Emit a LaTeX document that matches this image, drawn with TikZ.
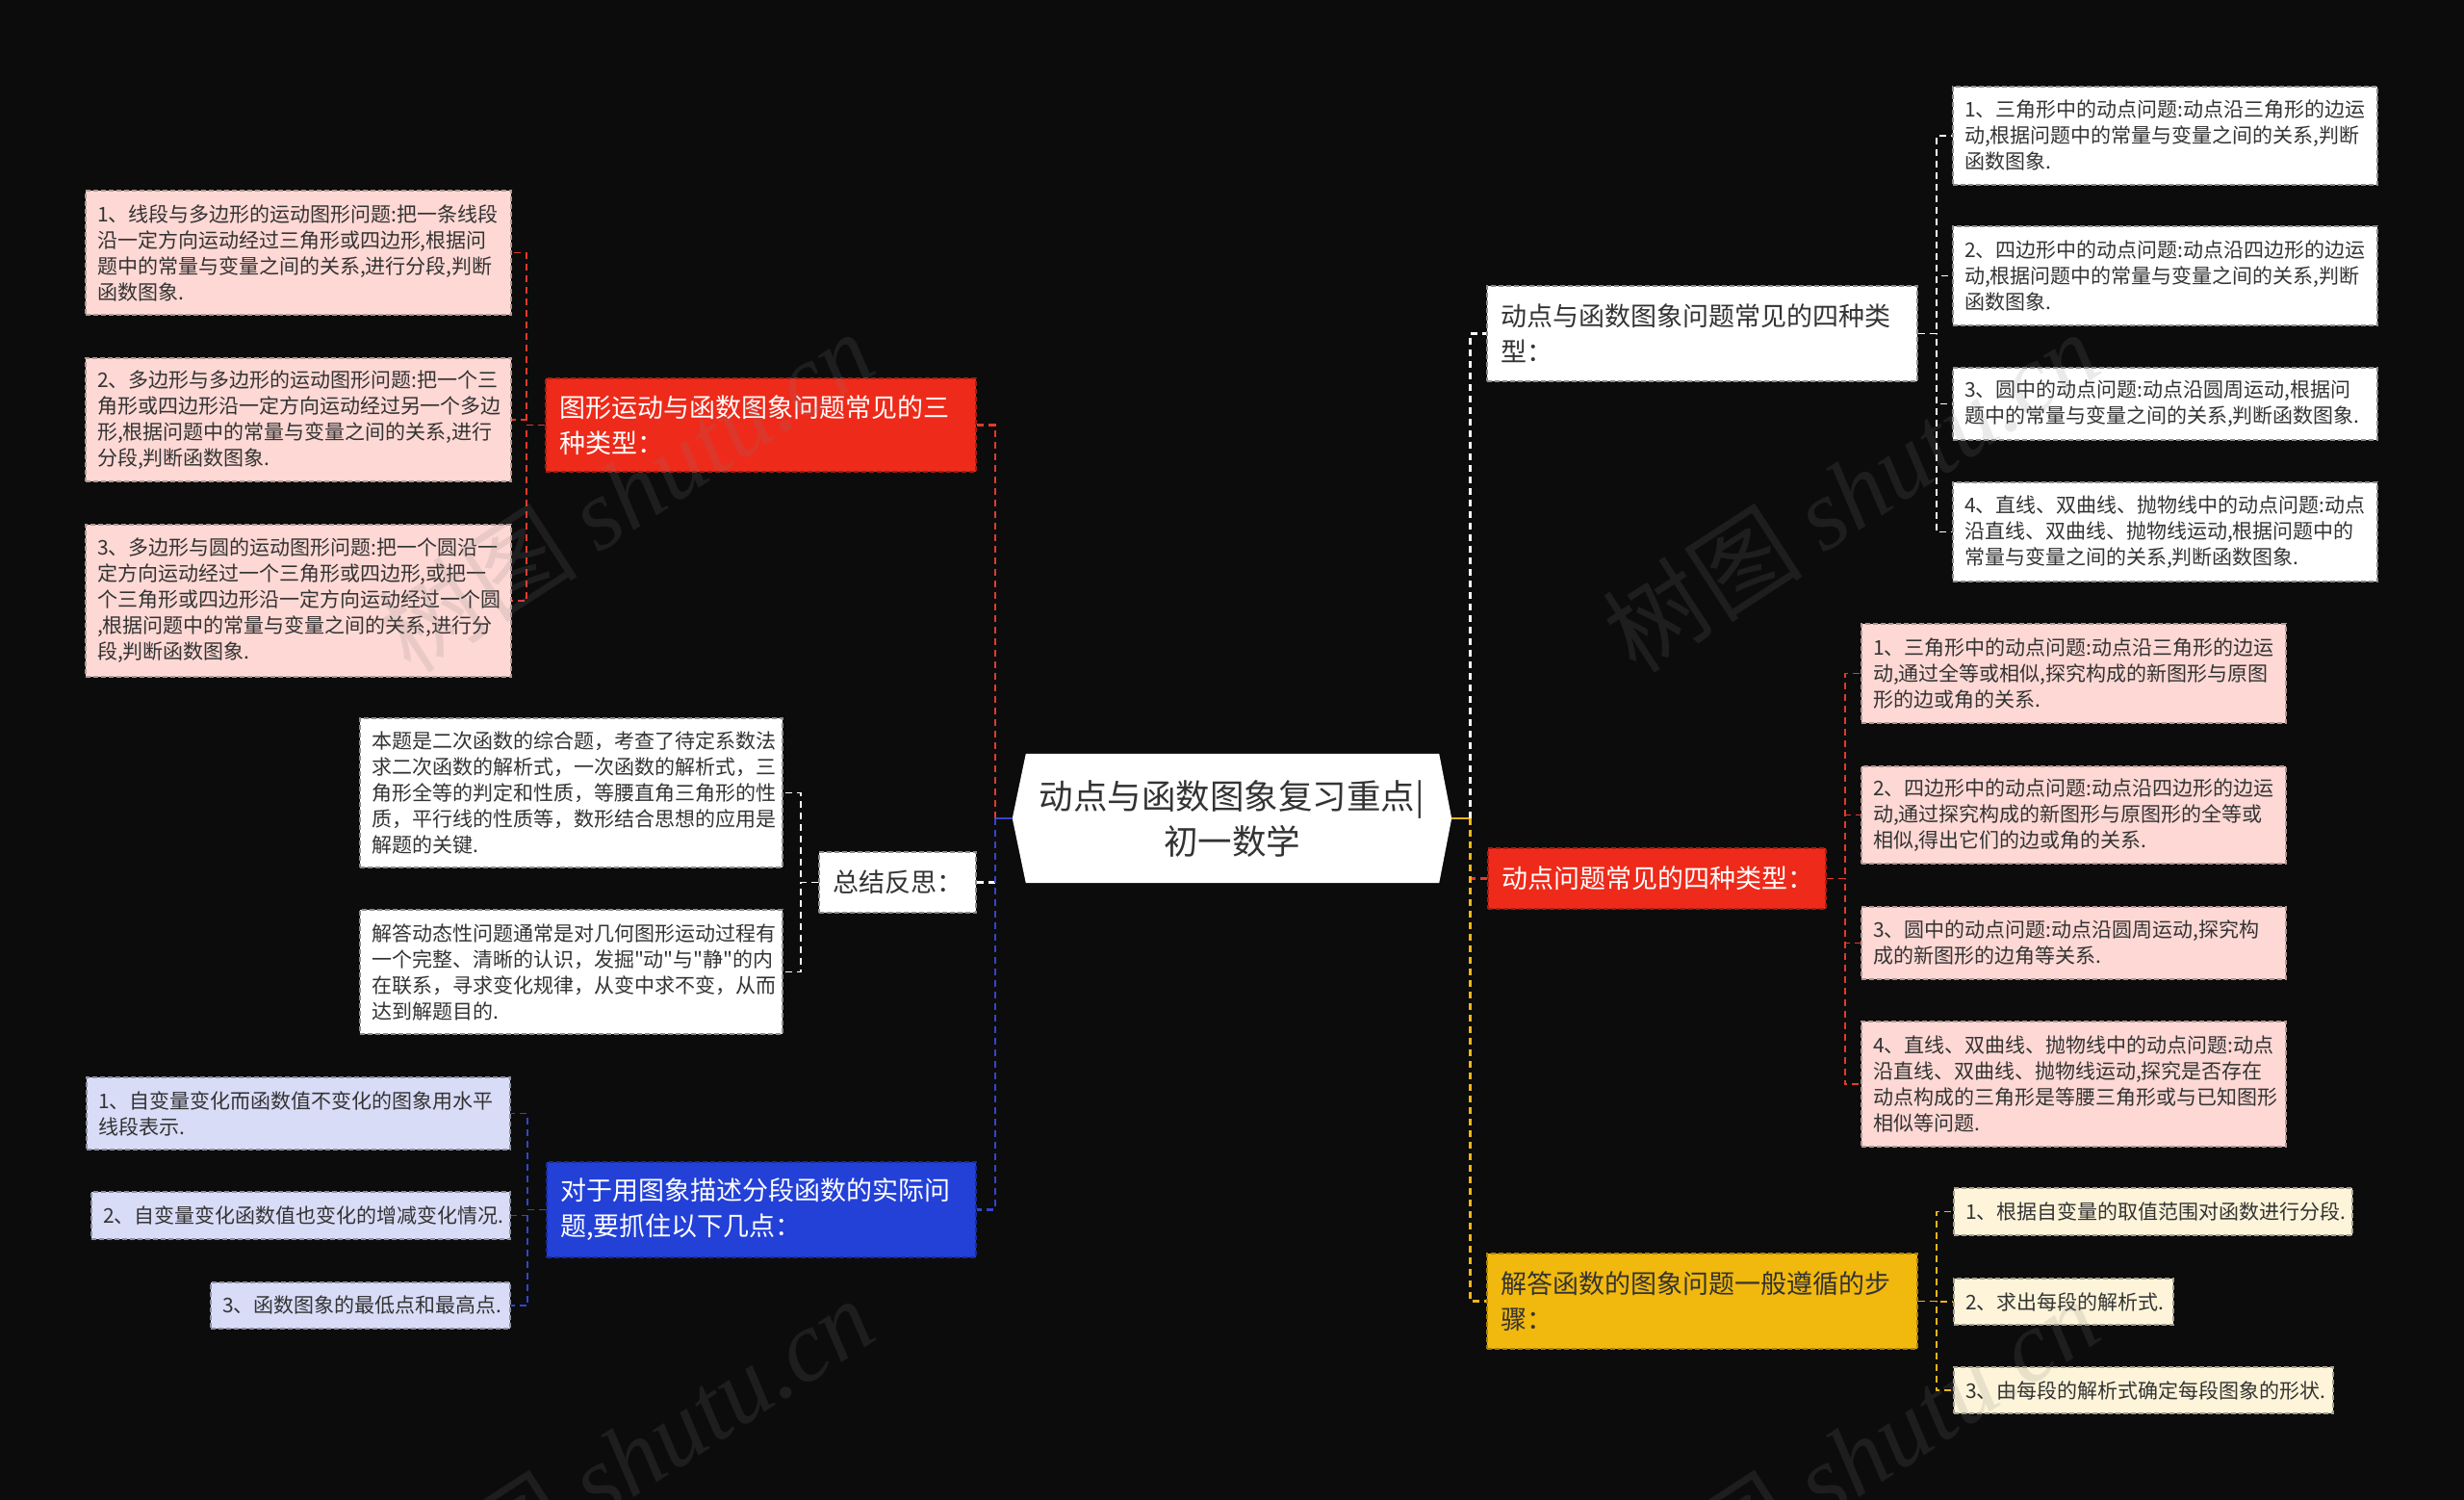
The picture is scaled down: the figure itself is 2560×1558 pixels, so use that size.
\documentclass[tikz,border=0pt]{standalone}
\usepackage{fontspec}
\setmainfont{Noto Sans CJK SC}[Ligatures=TeXOff]
\newfontfamily\wmfont{Liberation Serif}
\usetikzlibrary{calc}
\pgfdeclarelayer{bglayer}
\pgfsetlayers{bglayer,main}

\definecolor{bgc}{HTML}{0C0C0C}
\definecolor{redm}{HTML}{EE2A1A}
\definecolor{bluem}{HTML}{2340D7}
\definecolor{yelm}{HTML}{F1B80D}
\definecolor{pinkc}{HTML}{FDD8D4}
\definecolor{bluec}{HTML}{D9DCF7}
\definecolor{yelc}{HTML}{FDF4D9}
\definecolor{txt}{HTML}{333333}
\definecolor{redl}{HTML}{E23A2C}
\definecolor{bluel}{HTML}{3346CC}
\definecolor{yell}{HTML}{EDB61C}
\definecolor{wmc}{HTML}{808080}

\tikzset{
  basebox/.style={draw, dash pattern=on 5pt off 3pt, line width=1.4pt, align=left, inner ysep=4pt},
  childbox/.style={basebox, inner xsep=12pt, font=\fontsize{21pt}{27pt}\selectfont, text=txt},
  mainbox/.style={basebox, inner xsep=14pt, font=\fontsize{27pt}{37pt}\selectfont},
  pinkbox/.style={childbox, fill=pinkc, draw=pinkc!70!black},
  lbluebox/.style={childbox, fill=bluec, draw=bluec!65!black},
  lyelbox/.style={childbox, fill=yelc, draw=yelc!65!black},
  whitebox/.style={childbox, fill=white, draw=black!45},
  redmainbox/.style={mainbox, fill=redm, draw=redm!70!black, text=white},
  bluemainbox/.style={mainbox, fill=bluem, draw=bluem!70!black, text=white},
  yelmainbox/.style={mainbox, fill=yelm, draw=yelm!70!black, text=txt},
  whitemainbox/.style={mainbox, fill=white, draw=black!45, text=txt},
  conbase/.style={dash pattern=on 7pt off 5pt},
  redcon/.style={conbase, draw=redl, line width=2.6pt},
  bluecon/.style={conbase, draw=bluel, line width=2.6pt},
  yelcon/.style={conbase, draw=yell, line width=2.6pt},
  whitecon/.style={conbase, draw=white, line width=2.6pt},
  redchild/.style={conbase, draw=redl, line width=1.8pt},
  bluechild/.style={conbase, draw=bluel, line width=1.8pt},
  yelchild/.style={conbase, draw=yell, line width=1.8pt},
  whitechild/.style={conbase, draw=white, line width=1.8pt},
  wmark/.style={text=wmc, opacity=0.16, font=\fontsize{104pt}{104pt}\selectfont, rotate=33},
}

\begin{document}
\begin{tikzpicture}[x=1pt,y=-1pt]
\useasboundingbox (0,0) rectangle (2560,1558);
\clip (0,0) rectangle (2560,1558);

% ---------- centre ----------
\node[font=\fontsize{35.5pt}{47pt}\selectfont, text=txt, align=center,
      minimum width=456pt, minimum height=134pt, inner sep=0pt] (c) at (1280,850)
  {动点与函数图象复习重点|\\初一数学};

\begin{pgfonlayer}{bglayer}
  \fill[bgc] (0,0) rectangle (2560,1558);
  \fill[white] (c.west) -- ([xshift=14pt]c.north west) -- ([xshift=-13pt]c.north east)
     -- (c.east) -- ([xshift=-13pt]c.south east) -- ([xshift=14pt]c.south west) -- cycle;
\end{pgfonlayer}

% ---------- left: red main and children ----------
\node[redmainbox, text width=419pt, minimum height=97pt] (ra) at (790.5,441.5)
  {图形运动与函数图象问题常见的三\\种类型：};
\node[pinkbox, text width=418pt, minimum height=129pt] (l1) at (310,262.5)
  {1、线段与多边形的运动图形问题:把一条线段\\沿一定方向运动经过三角形或四边形,根据问\\题中的常量与变量之间的关系,进行分段,判断\\函数图象.};
\node[pinkbox, text width=418pt, minimum height=128pt] (l2) at (310,436)
  {2、多边形与多边形的运动图形问题:把一个三\\角形或四边形沿一定方向运动经过另一个多边\\形,根据问题中的常量与变量之间的关系,进行\\分段,判断函数图象.};
\node[pinkbox, text width=418pt, minimum height=158pt] (l3) at (310,624)
  {3、多边形与圆的运动图形问题:把一个圆沿一\\定方向运动经过一个三角形或四边形,或把一\\个三角形或四边形沿一定方向运动经过一个圆\\,根据问题中的常量与变量之间的关系,进行分\\段,判断函数图象.};

% ---------- left: summary ----------
\node[whitemainbox, text width=135pt, minimum height=63pt] (sum) at (932.5,916.5)
  {总结反思：};
\node[whitebox, text width=415pt, minimum height=155pt] (s1) at (593.5,823.5)
  {本题是二次函数的综合题，考查了待定系数法\\求二次函数的解析式，一次函数的解析式，三\\角形全等的判定和性质，等腰直角三角形的性\\质，平行线的性质等，数形结合思想的应用是\\解题的关键.};
\node[whitebox, text width=415pt, minimum height=129pt] (s2) at (593.5,1009.5)
  {解答动态性问题通常是对几何图形运动过程有\\一个完整、清晰的认识，发掘"动"与"静"的内\\在联系，寻求变化规律，从变中求不变，从而\\达到解题目的.};

% ---------- left: blue main and children ----------
\node[bluemainbox, text width=418pt, minimum height=99pt] (ba) at (791,1256.5)
  {对于用图象描述分段函数的实际问\\题,要抓住以下几点：};
\node[lbluebox, text width=416pt, minimum height=75pt] (b1) at (310,1156.5)
  {1、自变量变化而函数值不变化的图象用水平\\线段表示.};
\node[lbluebox, text width=411pt, minimum height=49pt] (b2) at (312.5,1262.5)
  {2、自变量变化函数值也变化的增减变化情况.};
\node[lbluebox, text width=287pt, minimum height=48pt] (b3) at (374.5,1356)
  {3、函数图象的最低点和最高点.};

% ---------- right: white main and children ----------
\node[whitemainbox, text width=419pt, minimum height=99pt] (wm) at (1768.5,346.5)
  {动点与函数图象问题常见的四种类\\型：};
\node[whitebox, text width=417pt, minimum height=102pt] (w1) at (2249.5,141)
  {1、三角形中的动点问题:动点沿三角形的边运\\动,根据问题中的常量与变量之间的关系,判断\\函数图象.};
\node[whitebox, text width=417pt, minimum height=103pt] (w2) at (2249.5,286.5)
  {2、四边形中的动点问题:动点沿四边形的边运\\动,根据问题中的常量与变量之间的关系,判断\\函数图象.};
\node[whitebox, text width=417pt, minimum height=75pt] (w3) at (2249.5,419.5)
  {3、圆中的动点问题:动点沿圆周运动,根据问\\题中的常量与变量之间的关系,判断函数图象.};
\node[whitebox, text width=417pt, minimum height=103pt] (w4) at (2249.5,552.5)
  {4、直线、双曲线、抛物线中的动点问题:动点\\沿直线、双曲线、抛物线运动,根据问题中的\\常量与变量之间的关系,判断函数图象.};

% ---------- right: red main and children ----------
\node[redmainbox, text width=323pt, minimum height=63pt] (rm) at (1721.5,912.5)
  {动点问题常见的四种类型：};
\node[pinkbox, text width=417pt, minimum height=103pt] (p1) at (2154.5,699.5)
  {1、三角形中的动点问题:动点沿三角形的边运\\动,通过全等或相似,探究构成的新图形与原图\\形的边或角的关系.};
\node[pinkbox, text width=417pt, minimum height=101pt] (p2) at (2154.5,846.5)
  {2、四边形中的动点问题:动点沿四边形的边运\\动,通过探究构成的新图形与原图形的全等或\\相似,得出它们的边或角的关系.};
\node[pinkbox, text width=417pt, minimum height=75pt] (p3) at (2154.5,979.5)
  {3、圆中的动点问题:动点沿圆周运动,探究构\\成的新图形的边角等关系.};
\node[pinkbox, text width=417pt, minimum height=130pt] (p4) at (2154.5,1126)
  {4、直线、双曲线、抛物线中的动点问题:动点\\沿直线、双曲线、抛物线运动,探究是否存在\\动点构成的三角形是等腰三角形或与已知图形\\相似等问题.};

% ---------- right: yellow main and children ----------
\node[yelmainbox, text width=419pt, minimum height=99pt] (ym) at (1768.5,1351.5)
  {解答函数的图象问题一般遵循的步\\骤：};
\node[lyelbox, text width=390pt, minimum height=49pt] (y1) at (2237,1258.5)
  {1、根据自变量的取值范围对函数进行分段.};
\node[lyelbox, text width=204pt, minimum height=48pt] (y2) at (2144,1352)
  {2、求出每段的解析式.};
\node[lyelbox, text width=370pt, minimum height=48pt] (y3) at (2227,1444)
  {3、由每段的解析式确定每段图象的形状.};

% ---------- junction coordinates ----------
\coordinate (sL) at ([xshift=-18pt]c.west);
\coordinate (sR) at ([xshift=19pt]c.east);
\coordinate (raJ) at ([xshift=-19pt]ra.west);
\coordinate (sumJ) at ([xshift=-18pt]sum.west);
\coordinate (baJ) at ([xshift=-19pt]ba.west);
\coordinate (wmJ) at ([xshift=19pt]wm.east);
\coordinate (rmJ) at ([xshift=19pt]rm.east);
\coordinate (ymJ) at ([xshift=19pt]ym.east);

% ---------- centre connectors ----------
\draw[whitecon] (sum.east) -- (sum.east -| sL);
\draw[bluel, line width=2.6pt] (c.west) -- (sL);
\draw[redcon] (sL) |- (ra.east);
\draw[bluecon] (sL) |- (ba.east);

\draw[redcon] (rm.west) -- (rm.west -| sR);
\draw[yell, line width=2.6pt] (c.east) -- (sR);
\draw[whitecon] (sR) |- (wm.west);
\draw[yelcon] (sR) |- (ym.west);

% ---------- child connectors ----------
\foreach \n in {l1,l2,l3} \draw[redchild] (ra.west) -- (raJ) |- (\n.east);
\foreach \n in {s1,s2} \draw[whitechild] (sum.west) -- (sumJ) |- (\n.east);
\foreach \n in {b1,b2,b3} \draw[bluechild] (ba.west) -- (baJ) |- (\n.east);
\foreach \n in {w1,w2,w3,w4} \draw[whitechild] (wm.east) -- (wmJ) |- (\n.west);
\foreach \n in {p1,p2,p3,p4} \draw[redchild] (rm.east) -- (rmJ) |- (\n.west);
\foreach \n in {y1,y2,y3} \draw[yelchild] (ym.east) -- (ymJ) |- (\n.west);

% ---------- watermarks ----------
\node[wmark] (wk1) at (650,510) {树图\ {\wmfont\itshape shutu.cn}};
\node[wmark] (wk2) at (1923,510) {树图\ {\wmfont\itshape shutu.cn}};
\node[wmark] (wk3) at (650,1514) {树图\ {\wmfont\itshape shutu.cn}};
\node[wmark] (wk4) at (1923,1514) {树图\ {\wmfont\itshape shutu.cn}};
\end{tikzpicture}
\end{document}
